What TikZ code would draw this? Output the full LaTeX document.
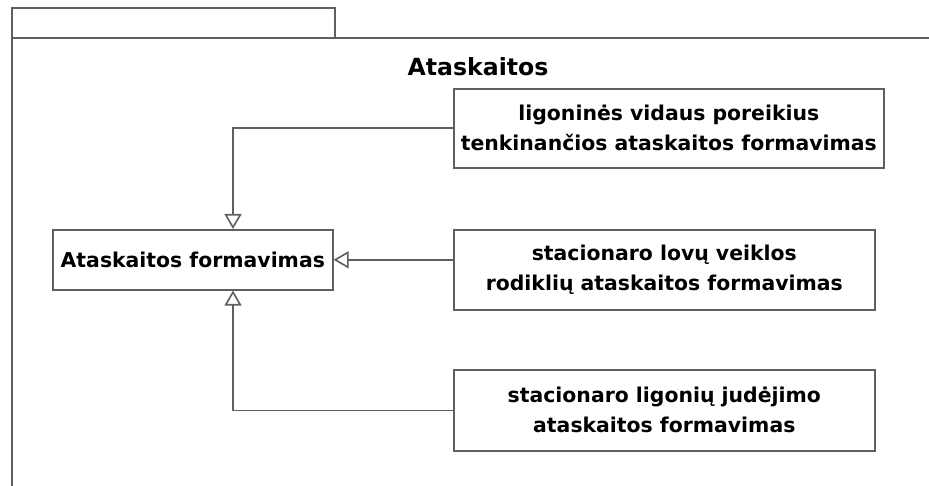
\documentclass[tikz,border=0pt]{standalone}
\usepackage{fontspec}
\setmainfont{DejaVu Sans}
\usetikzlibrary{arrows.meta}
\definecolor{linegray}{RGB}{95,95,95}
\newcommand{\labelfont}{\fontsize{20.4}{30}\selectfont\bfseries}
\newcommand{\pkgfont}{\fontsize{23.6}{30}\selectfont\bfseries}
\begin{document}
\begin{tikzpicture}[x=1pt,y=-1pt,
  frameline/.style={draw=linegray, line width=1.6pt},
  usecase/.style={frameline, fill=white, inner sep=0pt, font=\labelfont,
    align=center, anchor=north west},
  gen/.style={frameline, -{Triangle[open, width=17pt, length=15pt, fill=white]}}
]
\useasboundingbox (0,0) rectangle (929,486);

% package frame with its tab
\draw[frameline] (12,38) rectangle (335,8);
\draw[frameline] (12,38) -- (929,38);
\draw[frameline] (12,38) -- (12,486);
\node[font=\pkgfont] (pkg) at (478,67) {Ataskaitos};

% use cases
\node[usecase, minimum width=280pt, minimum height=60pt] (base) at (52,229)
  {Ataskaitos formavimas};
\node[usecase, minimum width=430pt, minimum height=79pt] (r1) at (453,88)
  {ligoninės vidaus poreikius\\tenkinančios ataskaitos formavimas};
\node[usecase, minimum width=421pt, minimum height=80pt] (r2) at (453,229)
  {stacionaro lovų veiklos\\rodiklių ataskaitos formavimas};
\node[usecase, minimum width=421pt, minimum height=81pt] (r3) at (453,369)
  {stacionaro ligonių judėjimo\\ataskaitos formavimas};

% generalisation links
\coordinate (jx) at (233,0);
\draw[gen] (r1.west) -| (base.north -| jx);
\draw[gen] (r2.west |- base.east) -- (base.east);
\draw[gen] (r3.west) -| (base.south -| jx);
\end{tikzpicture}
\end{document}
